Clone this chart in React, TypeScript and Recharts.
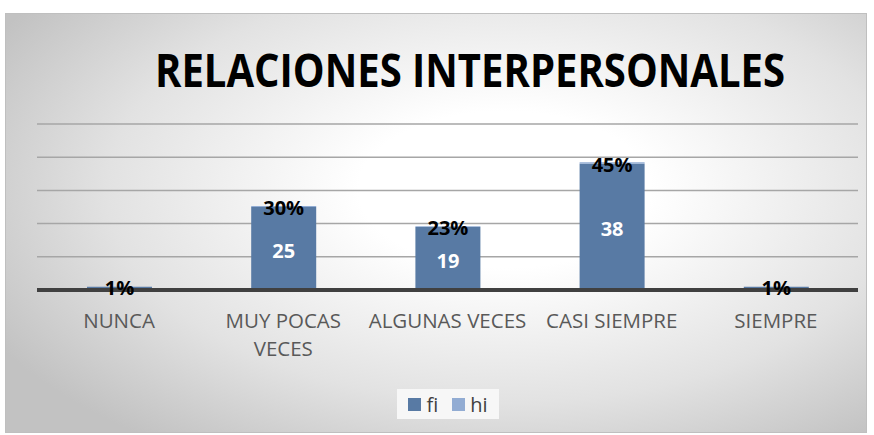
import { useLayoutEffect, useRef, useState } from 'react'
import { BarChart, Bar, XAxis, YAxis, CartesianGrid, LabelList } from 'recharts'

const categories = ['NUNCA', 'MUY POCAS VECES', 'ALGUNAS VECES', 'CASI SIEMPRE', 'SIEMPRE']
const fi = [1, 25, 19, 38, 1]
const hi = [0.01, 0.3, 0.23, 0.45, 0.01]
const yTicks = [0, 10, 20, 30, 40, 50]

const data = categories.map((name, i) => ({ name, fi: fi[i], hi: hi[i] }))

const FI_COLOR = '#587aa4'
const HI_COLOR = '#92acd3'
const FONT = '"Open Sans", "Liberation Sans", sans-serif'
const TITLE = 'RELACIONES INTERPERSONALES'

// wrap the long category into two lines like the original
const wrapLines: Record<string, string[]> = {
  'MUY POCAS VECES': ['MUY POCAS', 'VECES'],
}

const CategoryTick = ({ x, y, payload }: any) => {
  const lines = wrapLines[payload.value] || [payload.value]
  return (
    <text x={x} y={y + 30} textAnchor="middle" fill="#595959" fontSize={20.5} fontFamily={FONT}>
      {lines.map((l, i) => (
        <tspan key={i} x={x} dy={i === 0 ? 0 : 28}>
          {l}
        </tspan>
      ))}
    </text>
  )
}

const FiLabel = ({ x, y, width, height, value }: any) => {
  if (value < 5) return null
  return (
    <text
      x={x + width / 2}
      y={y + height / 2 + 2}
      textAnchor="middle"
      dominantBaseline="central"
      fill="#ffffff"
      fontWeight="bold"
      fontSize={20}
      fontFamily={FONT}
    >
      {value}
    </text>
  )
}

const HiLabel = ({ x, y, width, height, value }: any) => (
  <text
    x={x + width / 2}
    y={y + height / 2 + 1}
    textAnchor="middle"
    dominantBaseline="central"
    fill="#000000"
    fontWeight="bold"
    fontSize={20}
    fontFamily={FONT}
  >
    {Math.round(value * 100) + '%'}
  </text>
)

// Calibri-like narrow bold title: measure and squeeze horizontally to 630px
function Title() {
  const ref = useRef<SVGTextElement>(null)
  const [sx, setSx] = useState(0.8)
  useLayoutEffect(() => {
    if (ref.current) {
      const w = ref.current.getComputedTextLength()
      if (w > 0) setSx(630 / w)
    }
  }, [])
  return (
    <g transform={`translate(470, 87) scale(${sx}, 1)`}>
      <text ref={ref} x={0} y={0} textAnchor="middle" fontSize={46} fontWeight="bold" fontFamily={FONT} fill="#000">
        {TITLE}
      </text>
    </g>
  )
}

export default function App() {
  return (
    <div style={{ position: 'absolute', left: 0, top: 0, width: 874, height: 435, background: '#fff' }}>
      <div
        style={{
          position: 'absolute',
          left: 5,
          top: 13,
          width: 860,
          height: 418,
          border: '1px solid #bfbfbf',
          background: 'radial-gradient(ellipse 68% 75% at 58% 42%, #ffffff 25%, #e2e2e2 68%, #c2c2c2 100%)',
        }}
      />
      <svg width={874} height={435} style={{ position: 'absolute', left: 0, top: 0 }}>
        <Title />
      </svg>
      <div style={{ position: 'absolute', left: 0, top: 0 }}>
        <BarChart
          width={874}
          height={435}
          data={data}
          margin={{ top: 124, right: 16, bottom: 85, left: 37 }}
          barSize={65}
        >
          <CartesianGrid vertical={false} stroke="#a6a6a6" strokeWidth={1.5} />
          <YAxis hide domain={[0, 50]} ticks={yTicks} />
          <XAxis
            dataKey="name"
            axisLine={{ stroke: '#404040', strokeWidth: 4 }}
            tickLine={false}
            height={60}
            interval={0}
            tick={<CategoryTick />}
          />
          <Bar dataKey="fi" stackId="a" fill={FI_COLOR} isAnimationActive={false}>
            <LabelList dataKey="fi" content={<FiLabel />} />
          </Bar>
          <Bar dataKey="hi" stackId="a" fill={HI_COLOR} isAnimationActive={false}>
            <LabelList dataKey="hi" content={<HiLabel />} />
          </Bar>
        </BarChart>
      </div>
      <div
        style={{
          position: 'absolute',
          left: 397,
          top: 389,
          width: 102,
          height: 30,
          background: '#f7f7f7',
          display: 'flex',
          alignItems: 'center',
          justifyContent: 'center',
          fontFamily: FONT,
          fontSize: 20,
          color: '#404040',
        }}
      >
        <span style={{ width: 13, height: 13, background: FI_COLOR, marginRight: 5 }} />
        <span style={{ marginRight: 14 }}>fi</span>
        <span style={{ width: 13, height: 13, background: HI_COLOR, marginRight: 5 }} />
        <span>hi</span>
      </div>
    </div>
  )
}
